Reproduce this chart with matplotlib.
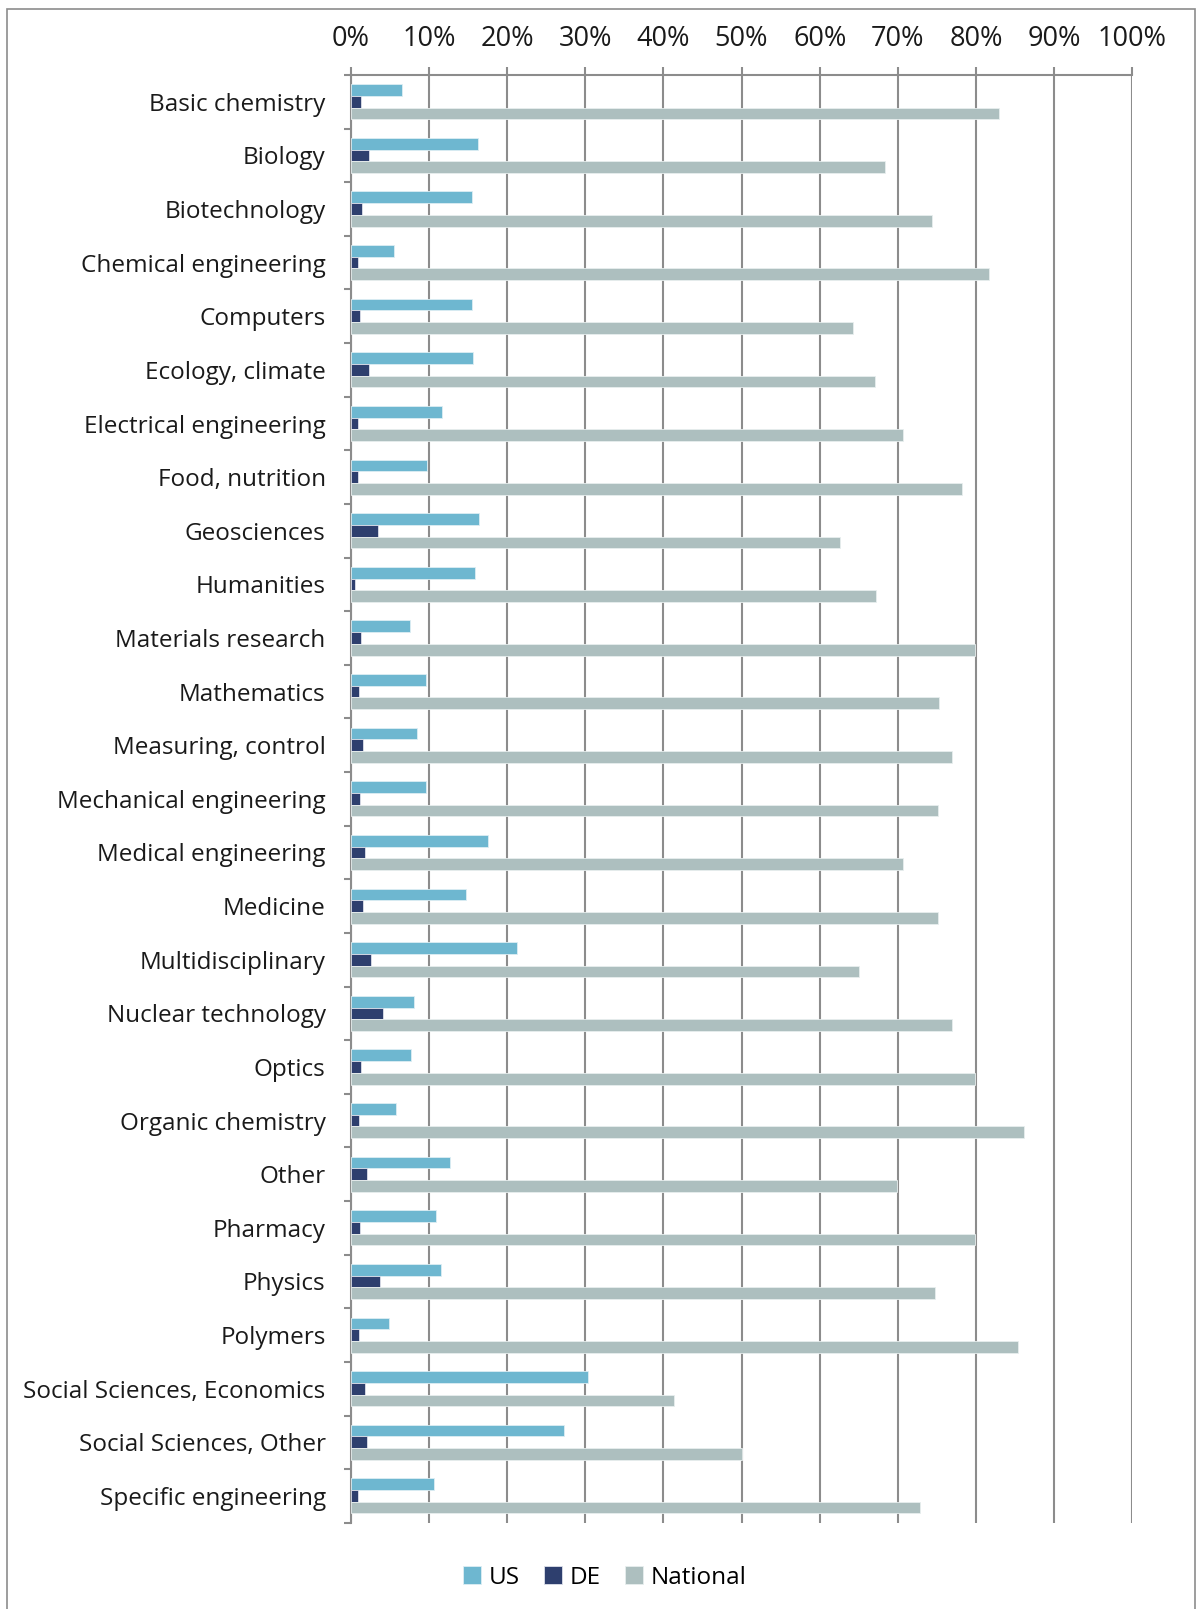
import matplotlib.pyplot as plt
import matplotlib.patches as patches
import numpy as np

plt.rcParams['font.family'] = ['Open Sans', 'DejaVu Sans']

categories = ["Basic chemistry", "Biology", "Biotechnology", "Chemical engineering",
              "Computers", "Ecology, climate", "Electrical engineering", "Food, nutrition",
              "Geosciences", "Humanities", "Materials research", "Mathematics",
              "Measuring, control", "Mechanical engineering", "Medical engineering",
              "Medicine", "Multidisciplinary", "Nuclear technology", "Optics",
              "Organic chemistry", "Other", "Pharmacy", "Physics", "Polymers",
              "Social Sciences, Economics", "Social Sciences, Other", "Specific engineering"]

us = [6.6, 16.3, 15.5, 5.5, 15.5, 15.6, 11.7, 9.7, 16.4, 15.9, 7.6, 9.6, 8.5, 9.6,
      17.5, 14.7, 21.3, 8.1, 7.7, 5.8, 12.7, 10.9, 11.5, 4.9, 30.4, 27.3, 10.7]
de = [1.3, 2.4, 1.4, 0.9, 1.2, 2.4, 0.9, 0.9, 3.5, 0.6, 1.3, 1.0, 1.6, 1.2,
      1.8, 1.6, 2.6, 4.1, 1.3, 1.0, 2.1, 1.2, 3.8, 1.0, 1.8, 2.1, 0.9]
national = [82.9, 68.4, 74.4, 81.6, 64.2, 67.1, 70.6, 78.2, 62.6, 67.2, 79.9, 75.3,
            76.9, 75.1, 70.6, 75.1, 65.0, 76.9, 79.9, 86.1, 69.9, 79.9, 74.8, 85.4,
            41.4, 50.1, 72.8]

ticks = list(range(0, 101, 10))
tick_labels = [f"{t}%" for t in ticks]

c_us = '#6EB7D0'
c_de = '#2E3F6E'
c_nat = '#ADBFBF'
grid_c = '#8C8C8C'

fig = plt.figure(figsize=(11.97, 16.09), dpi=100)
ax = fig.add_axes([0.293, 0.0536, 0.653, 0.8998])

y = np.arange(len(categories))
h = 0.218
ax.barh(y - h, us, height=h, color=c_us, edgecolor='#DDEEF3', linewidth=0.6, label='US', zorder=3)
ax.barh(y, de, height=h, color=c_de, edgecolor='#DDE0EA', linewidth=0.6, label='DE', zorder=3)
ax.barh(y + h, national, height=h, color=c_nat, edgecolor='#E8EEEE', linewidth=0.6, label='National', zorder=3)

ax.set_xlim(0, 100)
ax.set_ylim(len(categories) - 0.5, -0.5)
ax.set_xticks(ticks)
ax.set_xticklabels(tick_labels)
ax.xaxis.tick_top()
ax.grid(axis='x', color=grid_c, linewidth=1.5, zorder=0)

ax.set_yticks(y)
ax.set_yticklabels(categories)
ax.set_yticks(np.arange(-0.5, len(categories), 1), minor=True)
ax.tick_params(axis='y', which='major', length=0, pad=18, labelsize=17.5, colors='#1a1a1a')
ax.tick_params(axis='y', which='minor', length=5, width=1.5, color=grid_c)
ax.tick_params(axis='x', length=6, width=1.5, color=grid_c, pad=10, labelsize=19.5, labelcolor='#1a1a1a')

for s in ['right', 'bottom']:
    ax.spines[s].set_visible(False)
for s in ['left', 'top']:
    ax.spines[s].set_color(grid_c)
    ax.spines[s].set_linewidth(1.5)

fig.legend(loc='center', bbox_to_anchor=(0.505, 0.0195), ncol=3, frameon=False,
           fontsize=17.5, handlelength=0.75, handleheight=0.75, handletextpad=0.3,
           columnspacing=1.0)

border = patches.Rectangle((7 / 1197, -0.01), 1188 / 1197, 1.0044, transform=fig.transFigure,
                           fill=False, edgecolor='#8C8C8C', linewidth=1.2)
fig.patches.append(border)

plt.savefig('out.png', dpi=100)
